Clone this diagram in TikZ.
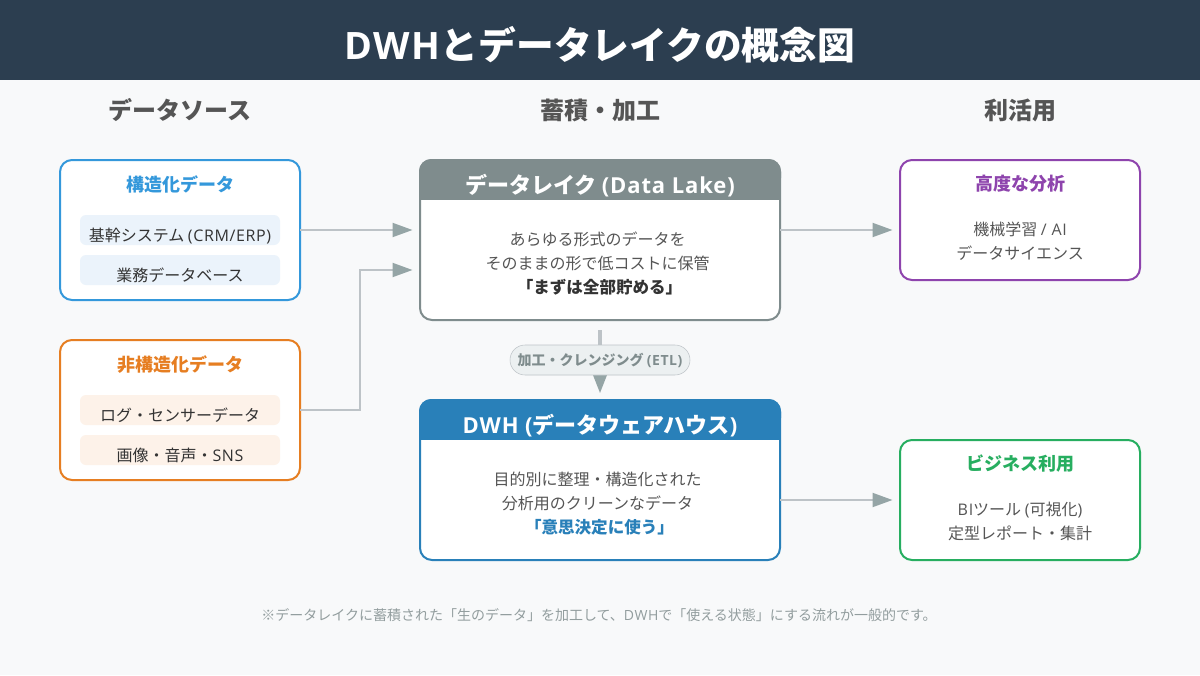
\documentclass[tikz,border=0pt]{standalone}
\usepackage{fontspec}
\setmainfont{Noto Sans CJK JP}
\newfontfamily\latin{Open Sans}[LetterSpace=4]
\usetikzlibrary{positioning,calc,arrows.meta}
\newcommand{\en}[1]{{\latin #1}}
\newcommand{\fs}[1]{\fontsize{#1pt}{#1pt}\selectfont}
\newcommand{\key}[2]{\hspace*{3pt}{\fontsize{12.4pt}{18pt}\selectfont\bfseries\textcolor{#1}{#2}}}
\def\px{0.75pt}
\definecolor{bgcol}{HTML}{F8F9FA}
\definecolor{navy}{HTML}{2C3E50}
\definecolor{blue}{HTML}{3498DB}
\definecolor{orange}{HTML}{E67E22}
\definecolor{purple}{HTML}{8E44AD}
\definecolor{green}{HTML}{27AE60}
\definecolor{lakecol}{HTML}{7F8C8D}
\definecolor{dwhcol}{HTML}{2980B9}
\definecolor{linecol}{HTML}{BDC3C7}
\definecolor{tipcol}{HTML}{95A5A6}
\definecolor{txtcol}{HTML}{555555}
\definecolor{itemcol}{HTML}{333333}
\definecolor{bluebg}{HTML}{EBF3FB}
\definecolor{orangebg}{HTML}{FDF2E9}
\definecolor{pillbg}{HTML}{ECF0F1}
\tikzset{
	card/.style={draw=#1,fill=white,line width=2*\px,rounded corners=12*\px,inner sep=0pt,outer sep=0pt,minimum width=240*\px},
	bigcard/.style={card=#1,minimum width=360*\px,minimum height=160*\px},
	section/.style={anchor=base,text=txtcol,font=\fs{18}\bfseries},
	cardtitle/.style={anchor=base,text=#1,font=\fs{13.5}\bfseries},
	item/.style={fill=#1,rounded corners=6*\px,minimum width=200*\px,minimum height=30*\px,inner sep=0pt,outer sep=0pt},
	itemtext/.style={anchor=base,text=itemcol,font=\fs{12}},
	head/.style={anchor=base,text=white,font=\fs{16.5}\bfseries},
	body/.style={align=center,text=txtcol,font=\fontsize{12pt}{18pt}\selectfont},
	flow/.style={draw=linecol,line width=2*\px,-{Triangle[length=20*\px,width=14*\px,color=tipcol,fill=tipcol]},shorten >=-0.5*\px},
}
\begin{document}
\begin{tikzpicture}[x=\px,y=-\px]
	\useasboundingbox (0,0) rectangle (1200,675);
	\fill[bgcol] (0,0) rectangle (1200,675);
	\fill[navy] (0,0) rectangle (1200,80);
	\node[anchor=base,text=white,font=\fs{28.3}\bfseries] (title) at (600,59) {\en{DWH}とデータレイクの概念図};

	% column headings
	\node[section] (srchead) at (180,119) {データソース};
	\node[section] (storehead) at (600,119) {蓄積・加工};
	\node[section] (usehead) at (1020,119) {利活用};

	% left column
	\node[card=blue,minimum height=140*\px] (struct) at (180,230) {};
	\node[cardtitle=blue] (structtitle) at ($(struct.north)+(0,31.5)$) {構造化データ};
	\node[item=bluebg] (item1) at (180,230) {};
	\node[item=bluebg,below=10*\px of item1] (item2) {};
	\node[itemtext] (item1text) at ($(item1.center)+(0,11)$) {基幹システム \en{(CRM/ERP)}};
	\node[itemtext] (item2text) at ($(item2.center)+(0,11)$) {業務データベース};

	\node[card=orange,minimum height=140*\px] (unstruct) at (180,410) {};
	\node[cardtitle=orange] (unstructtitle) at ($(unstruct.north)+(0,31.5)$) {非構造化データ};
	\node[item=orangebg] (item3) at (180,410) {};
	\node[item=orangebg,below=10*\px of item3] (item4) {};
	\node[itemtext] (item3text) at ($(item3.center)+(0,11)$) {ログ・センサーデータ};
	\node[itemtext] (item4text) at ($(item4.center)+(0,11)$) {画像・音声・\en{SNS}};

	% middle column
	\node[bigcard=lakecol] (lake) at (600,240) {};
	\fill[lakecol,rounded corners=12*\px] (419,159) rectangle (781,190);
	\fill[lakecol] (419,180) rectangle (781,200);
	\node[head] (lakehead) at ($(lake.north)+(0,33)$) {データレイク \en{(Data Lake)}};
	\node[body] (laketext) at (597.5,264) {あらゆる形式のデータを\\そのままの形で低コストに保管\\\key{itemcol}{「まずは全部貯める」}};

	\node[bigcard=dwhcol] (dwh) at (600,480) {};
	\fill[dwhcol,rounded corners=12*\px] (419,399) rectangle (781,430);
	\fill[dwhcol] (419,420) rectangle (781,440);
	\node[head] (dwhhead) at ($(dwh.north)+(0,33)$) {\en{DWH (}データウェアハウス\en{)}};
	\node[body] (dwhtext) at (597.5,504) {目的別に整理・構造化された\\分析用のクリーンなデータ\\\key{dwhcol}{「意思決定に使う」}};

	% right column
	\node[card=purple,minimum height=120*\px] (adv) at (1020,220) {};
	\node[cardtitle=purple] (advtitle) at ($(adv.north)+(0,30.5)$) {高度な分析};
	\node[body] (advtext) at (1020,241) {機械学習 \en{/ AI}\\データサイエンス};

	\node[card=green,minimum height=120*\px] (biz) at (1020,500) {};
	\node[cardtitle=green] (biztitle) at ($(biz.north)+(0,30.5)$) {ビジネス利用};
	\node[body] (biztext) at (1020,521) {\en{BI}ツール \en{(}可視化\en{)}\\定型レポート・集計};

	% connectors
	\coordinate (lakein1) at ($(lake.west |- struct.east)+(-8,0)$);
	\coordinate (lakein2) at ($(lakein1)+(0,40)$);
	\coordinate (lakeout) at (lake.east |- struct.east);
	\coordinate (dwhout) at (dwh.east |- biz.east);
	\draw[flow] (struct.east) -- (lakein1);
	\draw[flow] (unstruct.east) -- (360,410) -- (360,270) -- (lakein2);
	\draw[flow] (lakeout) -- ($(adv.west |- lakeout)+(-8,0)$);
	\draw[flow] (dwhout) -- ($(biz.west)+(-8,0)$);
	\draw[flow,line width=4*\px] ($(lake.south)+(0,10)$) -- ($(dwh.north)+(0,-7)$);

	\node[draw=linecol,fill=pillbg,rounded corners=15*\px,minimum width=180*\px,minimum height=30*\px,inner sep=0pt,text=lakecol,font=\fs{10.5}\bfseries] (etl) at (600,360) {加工・クレンジング \en{(ETL)}};

	\node[anchor=base,text=lakecol!85!white,font=\fs{10.5}] (note) at (599,620) {※データレイクに蓄積された「生のデータ」を加工して、\en{DWH}で「使える状態」にする流れが一般的です。};
\end{tikzpicture}
\end{document}
